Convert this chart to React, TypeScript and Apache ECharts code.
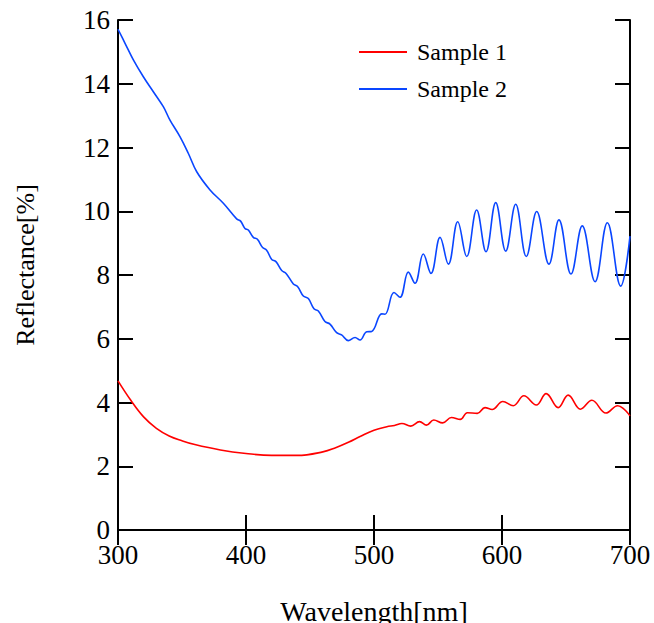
import React, { useEffect, useRef } from "react";
import * as echarts from "echarts";

const sample1Wavelength = [300, 310, 320, 330, 340, 350, 360, 380, 400, 420, 440, 460, 470, 480, 490, 500, 510, 516, 521.8, 528.7, 535.6, 541, 546.7, 553.6, 560.5, 567.4, 572.9, 580.7, 586.7, 592.3, 600.6, 608.8, 617.1, 626.8, 634.5, 643.9, 651.7, 661.3, 670.2, 681.2, 690.3, 700];
const sample1Reflectance = [4.68, 4.07, 3.55, 3.19, 2.95, 2.8, 2.68, 2.51, 2.4, 2.34, 2.34, 2.45, 2.58, 2.75, 2.95, 3.13, 3.24, 3.28, 3.34, 3.26, 3.4, 3.29, 3.45, 3.36, 3.53, 3.47, 3.68, 3.66, 3.84, 3.78, 4.03, 3.9, 4.21, 3.92, 4.28, 3.84, 4.23, 3.79, 4.07, 3.67, 3.9, 3.58];

const sample2Wavelength = [300, 305.5, 312, 319.8, 327.6, 335.4, 340.6, 348.4, 354.9, 361.5, 371.9, 382.3,
  392.7, 395.8, 399.2, 401.8, 405.7, 408.9, 413.0, 416.1, 420.1, 423.4, 427.9, 431.3, 437.0, 440.4, 444.8, 448.7,
  453.1, 456.5, 461.7, 465.6, 470.8, 474.7, 479.9, 485.2, 489.1, 494.3, 498.2,
  506, 508.6, 515.6, 520.3, 526.8, 532, 538.5, 544.5, 551.6, 558.1, 565.4, 572.4, 580.2, 587.5, 595.1, 602.9, 610.7, 619, 627.1, 636.7, 644.5, 653.9, 662.7, 672.7, 682.3, 692.7, 700];
const sample2Reflectance = [15.71, 15.27, 14.75, 14.22, 13.75, 13.28, 12.86, 12.34, 11.82, 11.24, 10.67, 10.25,
  9.76, 9.69, 9.46, 9.41, 9.18, 9.12, 8.86, 8.78, 8.49, 8.42, 8.14, 8.05, 7.72, 7.63, 7.34, 7.26,
  6.94, 6.87, 6.54, 6.46, 6.19, 6.12, 5.94, 6.04, 5.96, 6.22, 6.23,
  6.78, 6.77, 7.45, 7.3, 8.09, 7.74, 8.66, 8.05, 9.18, 8.34, 9.67, 8.58, 10.04, 8.73, 10.27, 8.75, 10.22, 8.58, 9.99, 8.34, 9.73, 8.03, 9.54, 7.79, 9.64, 7.65, 9.22];

const seriesNames = ["Sample 1", "Sample 2"];
const xTitle = "Wavelength[nm]";
const yTitle = "Reflectance[%]";

const FONT = "Liberation Serif";

export default function App() {
  const ref = useRef<HTMLDivElement>(null);
  useEffect(() => {
    if (!ref.current) return;
    const chart = echarts.init(ref.current, undefined, { renderer: "svg" });
    const axisLine = { show: true, lineStyle: { color: "#000", width: 2 } };
    const tick = { show: true, inside: true, length: 15, lineStyle: { color: "#000", width: 2 } };
    const label = { color: "#000", fontSize: 27, fontFamily: FONT, lineHeight: 20 };
    chart.setOption({
      animation: false,
      backgroundColor: "#fff",
      textStyle: { fontFamily: FONT },
      grid: { left: 118, right: 24, top: 20, bottom: 93, containLabel: false, outerBoundsMode: "none" },
      legend: {
        orient: "vertical",
        left: 359,
        top: 40,
        padding: 0,
        itemWidth: 48,
        itemHeight: 2,
        itemGap: 13,
        icon: "rect",
        data: seriesNames,
        textStyle: { color: "#000", fontSize: 24, fontFamily: FONT, lineHeight: 24, padding: [0, 0, 0, 5] },
      },
      xAxis: [
        {
          type: "value", min: 300, max: 700, interval: 100,
          axisLine, axisTick: tick, splitLine: { show: false },
          axisLabel: { ...label, margin: 15 },
          name: xTitle, nameLocation: "middle", nameGap: 67,
          nameTextStyle: { color: "#000", fontSize: 28, fontFamily: FONT },
        },
        {
          type: "value", position: "top", min: 300, max: 700, interval: 100,
          axisLine, axisTick: tick, splitLine: { show: false }, axisLabel: { show: false },
        },
      ],
      yAxis: [
        {
          type: "value", min: 0, max: 16, interval: 2,
          axisLine, axisTick: tick, splitLine: { show: false },
          axisLabel: { ...label, margin: 8 },
          name: yTitle, nameLocation: "middle", nameGap: 80,
          nameTextStyle: { color: "#000", fontSize: 26, fontFamily: FONT, padding: [0, 0, 0, 20] },
        },
        {
          type: "value", position: "right", min: 0, max: 16, interval: 2,
          axisLine, axisTick: tick, splitLine: { show: false }, axisLabel: { show: false },
        },
      ],
      series: [
        {
          name: seriesNames[0], type: "line", symbol: "none", smooth: 0.4,
          lineStyle: { color: "#ff0000", width: 1.6 }, itemStyle: { color: "#ff0000" },
          data: sample1Wavelength.map((x, i) => [x, sample1Reflectance[i]]),
        },
        {
          name: seriesNames[1], type: "line", symbol: "none", smooth: 0.4,
          lineStyle: { color: "#0a46ff", width: 1.6 }, itemStyle: { color: "#0a46ff" },
          data: sample2Wavelength.map((x, i) => [x, sample2Reflectance[i]]),
        },
      ],
    });
    return () => chart.dispose();
  }, []);
  return (
    <div
      ref={ref}
      style={{ position: "absolute", left: 0, top: 0, width: 654, height: 623 }}
    />
  );
}
